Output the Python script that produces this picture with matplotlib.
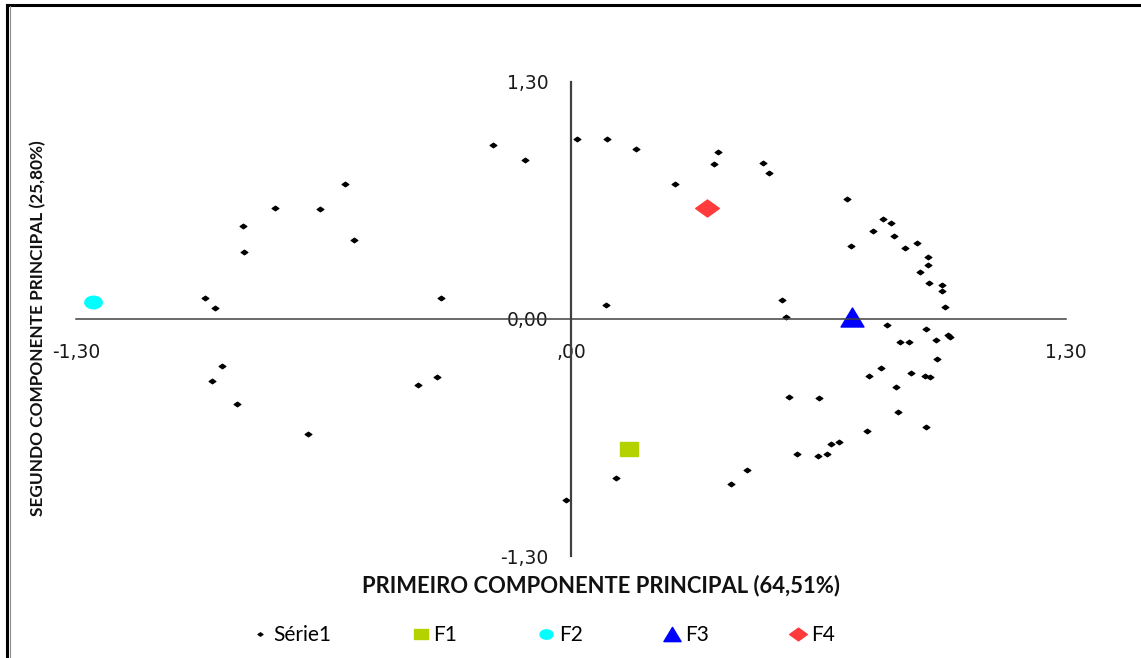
import numpy as np
import matplotlib
matplotlib.use("Agg")
import matplotlib.pyplot as plt
from matplotlib.path import Path
from matplotlib.lines import Line2D

serie1_x = [-0.962, -0.936, -0.861, -0.859, -0.778, -0.660, -0.594, -0.570, -0.341, -0.206,
            -0.121, 0.015, 0.096, 0.171, 0.386, 0.376, 0.504, 0.520, 0.274, 0.726,
            0.819, 0.842, 0.793, 0.849, 0.737, 0.879, 0.909, 0.938, 0.938, 0.917,
            0.942, 0.976, 0.976, 0.983, 0.091, 0.555, 0.565, 0.831, 0.933, 0.991,
            0.996, 0.959, 0.865, 0.888, 0.962, 0.814, 0.784, 0.893, 0.930, 0.944,
            0.855, 0.572, 0.653, 0.859, 0.777, 0.933, 0.704, 0.684, 0.595, 0.648,
            0.672, 0.464, 0.420, 0.118, -0.014, -0.916, -0.943, -0.879, -0.690, -0.401,
            -0.351]
serie1_y = [0.115, 0.060, 0.508, 0.368, 0.609, 0.603, 0.741, 0.433, 0.115, 0.954,
            0.872, 0.987, 0.987, 0.934, 0.918, 0.850, 0.856, 0.799, 0.741, 0.658,
            0.549, 0.527, 0.483, 0.455, 0.402, 0.389, 0.417, 0.338, 0.296, 0.256,
            0.197, 0.188, 0.155, 0.066, 0.077, 0.104, 0.011, -0.031, -0.055, -0.086,
            -0.099, -0.115, -0.125, -0.125, -0.219, -0.271, -0.313, -0.296, -0.313, -0.318,
            -0.373, -0.430, -0.433, -0.510, -0.613, -0.592, -0.673, -0.686, -0.741, -0.752,
            -0.741, -0.828, -0.905, -0.872, -0.993, -0.256, -0.340, -0.466, -0.629, -0.362,
            -0.318]

# factor points
fatores = ["F1", "F2", "F3", "F4"]
fator_x = [0.152, -1.256, 0.739, 0.357]
fator_y = [-0.715, 0.095, 0.013, 0.609]
fator_cor = ["#b3d200", "#00ffff", "#0000ff", "#ff3b3b"]

tick_vals = [-1.3, 0.0, 1.3]
xtick_labels = ["-1,30", ",00", "1,30"]
ytick_labels = ["-1,30", "0,00", "1,30"]


def shape(verts, sy):
    # marker path squashed vertically (the original is stretched sideways)
    v = np.array(verts, dtype=float) * [1.0, sy]
    return Path(v, closed=True)


circ = Path.unit_circle()
m_small = shape([(0, 1), (1, 0), (0, -1), (-1, 0), (0, 1)], 0.7)
m_square = shape([(-1, -1), (1, -1), (1, 1), (-1, 1), (-1, -1)], 0.78)
m_circle = Path(circ.vertices * [1.0, 0.72], circ.codes)
m_tri = shape([(-1, -1), (1, -1), (0, 1), (-1, -1)], 0.83)
m_diam = shape([(0, 1), (1, 0), (0, -1), (-1, 0), (0, 1)], 0.72)
fator_marker = [m_square, m_circle, m_tri, m_diam]
fator_size = [13, 12.5, 16.5, 17]

fig = plt.figure(figsize=(11.41, 6.58), dpi=100)
ax = fig.add_axes([0.0669, 0.155, 0.867, 0.7204])

ax.plot(serie1_x, serie1_y, ls="none", marker=m_small, ms=5,
        color="black", mew=0.8, label="Série1")
for nome, x, y, c, m, s in zip(fatores, fator_x, fator_y, fator_cor, fator_marker, fator_size):
    ax.plot([x], [y], ls="none", marker=m, ms=s, color=c, mec=c, label=nome)

ax.set_xlim(-1.3, 1.3)
ax.set_ylim(-1.3, 1.3)
for side in ["top", "right"]:
    ax.spines[side].set_visible(False)
ax.spines["left"].set_position("zero")
ax.spines["bottom"].set_position("zero")
ax.spines["left"].set_color("#404040")
ax.spines["left"].set_linewidth(1.6)
ax.spines["bottom"].set_color("#404040")
ax.spines["bottom"].set_linewidth(1.1)

ax.set_xticks(tick_vals)
ax.set_xticklabels(xtick_labels)
ax.set_yticks(tick_vals)
ax.set_yticklabels(ytick_labels)
ax.tick_params(axis="x", length=0, pad=17, labelsize=13.5, colors="#1a1a1a")
ax.tick_params(axis="y", length=0, pad=16, labelsize=13.5, colors="#1a1a1a")

fig.text(601 / 1141, 1 - 586 / 658, "PRIMEIRO COMPONENTE PRINCIPAL (64,51%)",
         ha="center", va="center", fontsize=15.8, fontweight="bold",
         family=["Lato", "DejaVu Sans"], color="#111111")
fig.text(38 / 1141, 1 - 328 / 658, "SEGUNDO COMPONENTE PRINCIPAL (25,80%)",
         ha="center", va="center", rotation=90, fontsize=12.4, fontweight="bold",
         family=["Lato", "DejaVu Sans"], color="#111111")

fig.legend(loc="center", bbox_to_anchor=(545 / 1141, 1 - 635 / 658), ncol=5,
           frameon=False, markerscale=0.75, handlelength=0.5,
           handletextpad=0.35, columnspacing=4.05, prop={"family": "Lato", "size": 15})

# outer frame of the original picture: black top and left edges, grey inner line
fig.add_artist(Line2D([7 / 1141, 1], [1 - 5 / 658, 1 - 5 / 658], color="black", lw=2.2,
                      transform=fig.transFigure))
fig.add_artist(Line2D([7 / 1141, 7 / 1141], [0, 1 - 5 / 658], color="black", lw=2.2,
                      transform=fig.transFigure))
fig.add_artist(Line2D([9.7 / 1141, 9.7 / 1141], [0, 1 - 6 / 658], color="#8c8c8c", lw=0.8,
                      transform=fig.transFigure))

fig.savefig("out.png", dpi=100)
